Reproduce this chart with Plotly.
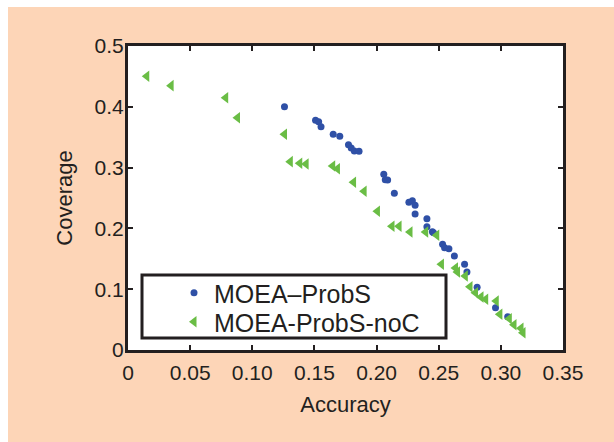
import plotly.graph_objects as go

# MOEA-ProbS (blue dots)
probs_acc = [0.1259, 0.1509, 0.1534, 0.1553, 0.1651, 0.1704, 0.1774, 0.1796, 0.1821, 0.1859,
             0.2058, 0.2070, 0.2089, 0.2143, 0.2260, 0.2288, 0.2310, 0.2310, 0.2405, 0.2405,
             0.2449, 0.2458, 0.2531, 0.2547, 0.2582, 0.2626, 0.2708, 0.2727, 0.2809, 0.2957,
             0.3055]
probs_cov = [0.400, 0.3777, 0.3755, 0.3673, 0.3547, 0.3514, 0.3377, 0.3322, 0.3273, 0.3268,
             0.2889, 0.2802, 0.2796, 0.2577, 0.2429, 0.2456, 0.2379, 0.2237, 0.2160, 0.2029,
             0.1946, 0.1930, 0.1738, 0.1683, 0.1667, 0.1546, 0.1409, 0.1283, 0.1031, 0.0696,
             0.0548]

# MOEA-ProbS-noC (green left triangles)
noc_acc = [0.0151, 0.0347, 0.0786, 0.0881, 0.1259, 0.1306, 0.1382, 0.1433, 0.1647, 0.1685,
           0.1815, 0.1900, 0.2007, 0.2124, 0.2181, 0.2269, 0.2395, 0.2484, 0.2522, 0.2635,
           0.2651, 0.2714, 0.2752, 0.2796, 0.2840, 0.2878, 0.2963, 0.2992, 0.3068, 0.3106,
           0.3162, 0.3178]
noc_cov = [0.4501, 0.4348, 0.4150, 0.3821, 0.3547, 0.3098, 0.3070, 0.3059, 0.3026, 0.2982,
           0.2758, 0.2610, 0.2281, 0.2034, 0.2034, 0.1941, 0.1941, 0.1886, 0.1409, 0.1349,
           0.1283, 0.1217, 0.1042, 0.0943, 0.0872, 0.0833, 0.0806, 0.0587, 0.0515, 0.0417,
           0.0356, 0.0285]

x_ticks = [0, 0.05, 0.10, 0.15, 0.20, 0.25, 0.30, 0.35]
x_tick_labels = ["0", "0.05", "0.10", "0.15", "0.20", "0.25", "0.30", "0.35"]
y_ticks = [0, 0.1, 0.2, 0.3, 0.4, 0.5]
y_tick_labels = ["0", "0.1", "0.2", "0.3", "0.4", "0.5"]

W, H = 614, 442
L, R, T, B = 128, 563, 46, 350
pw, ph = R - L, B - T

def px(x):
    return (x - L) / pw

def py(y):
    return (B - y) / ph

ink = "#231F20"
peach = "#FDD5B7"
font = "Liberation Sans, Arial, sans-serif"

fig = go.Figure()
fig.add_trace(go.Scatter(
    x=probs_acc, y=probs_cov, mode="markers", name="MOEA\u2013ProbS",
    marker=dict(symbol="circle", size=7, color="#2F50A6"),
    legend="legend", showlegend=True))
fig.add_trace(go.Scatter(
    x=noc_acc, y=noc_cov, mode="markers", name="MOEA-ProbS-noC",
    marker=dict(symbol="triangle-left", size=10, color="#6ABD45"),
    legend="legend2", showlegend=True))

axis_common = dict(showline=True, linecolor=ink, linewidth=3, mirror="ticks",
                   ticks="inside", ticklen=5, tickwidth=2, tickcolor=ink,
                   showgrid=False, zeroline=False,
                   tickfont=dict(family=font, size=21, color=ink))

legend_common = dict(xanchor="left", yanchor="middle", bgcolor="rgba(0,0,0,0)",
                     borderwidth=0, visible=True,
                     font=dict(family=font, size=25, color=ink))

fig.update_layout(
    width=W, height=H,
    showlegend=True,
    margin=dict(l=L, r=W - R, t=T, b=H - B),
    paper_bgcolor=peach, plot_bgcolor="white",
    xaxis=dict(range=[0, 0.35], tickvals=x_ticks, ticktext=x_tick_labels, ticklabelstandoff=2,
               title=dict(text="Accuracy", font=dict(family=font, size=22, color=ink), standoff=14),
               **axis_common),
    yaxis=dict(range=[0, 0.5], tickvals=y_ticks, ticktext=y_tick_labels, ticklabelstandoff=-3,
               title=dict(text="Coverage", font=dict(family=font, size=22, color=ink), standoff=16),
               **axis_common),
    legend=dict(x=px(174), y=py(293), **legend_common),
    legend2=dict(x=px(174), y=py(322), **legend_common),
    shapes=[
        dict(type="rect", xref="paper", yref="paper", x0=px(-10), x1=px(8), y0=py(H + 10), y1=py(-10),
             fillcolor="white", line=dict(width=0), layer="below"),
        dict(type="rect", xref="paper", yref="paper", x0=px(-10), x1=px(W + 10), y0=py(7), y1=py(-10),
             fillcolor="white", line=dict(width=0), layer="below"),
        dict(type="rect", xref="paper", yref="paper", x0=px(142), x1=px(446), y0=py(338), y1=py(275),
             fillcolor="white", line=dict(color=ink, width=3), layer="above"),
    ],
)

fig.write_html("out.html")
